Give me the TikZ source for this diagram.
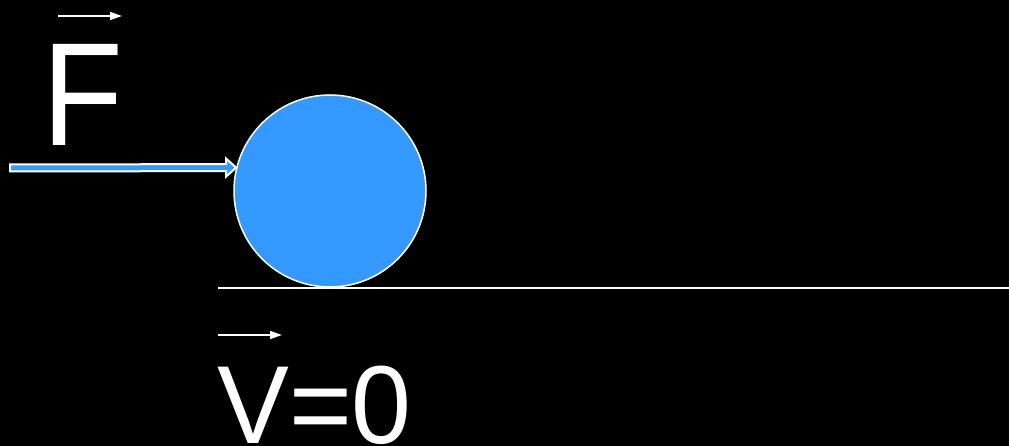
\documentclass[tikz,border=0pt]{standalone}
\usepackage{fontspec}
\setmainfont{Liberation Sans}
\usepackage{tikz}
\usetikzlibrary{calc, arrows.meta}
\definecolor{ballColor}{RGB}{51,153,255}

\begin{document}
\begin{tikzpicture}[x=1pt, y=1pt,
    label/.style={text=white, inner sep=0pt, anchor=base west},
    vecarrow/.style={white, line width=1.5pt, -{Triangle[length=12pt, width=8pt]}},
    forcearrow/.style={fill=ballColor, draw=white, line width=2pt, line join=miter}]
    \fill[black] (0,0) rectangle (1009,446);
    \useasboundingbox (0,0) rectangle (1009,446);
    \node[circle, fill=ballColor, draw=white, line width=1.5pt, minimum size=192pt, inner sep=0pt] (ball) at (330,255) {};
    \draw[white, line width=2pt] (218,158) coordinate (gstart) -- (1009,158) coordinate (gend);
    \coordinate (fstart) at (10,278);
    \coordinate (ftip) at (ball.166);
    \draw[forcearrow] ($(fstart)+(0,3.5)$) -- ($(ftip)+(-10,3.5)$) -- ($(ftip)+(-10,9)$) -- (ftip)
        -- ($(ftip)+(-10,-9)$) -- ($(ftip)+(-10,-3.5)$) -- ($(fstart)+(0,-3.5)$) -- cycle;
    \node[label, font=\fontsize{147}{150}\selectfont] (flabel) at (42,300) {\scalebox{0.9}[1]{F}};
    \draw[vecarrow] ($(flabel.base west)+(16,130)$) -- ($(flabel.base west)+(80,130)$);
    \node[label, font=\fontsize{111}{114}\selectfont] (vlabel) at (217,2) {\scalebox{0.97}[1]{V=0}};
    \draw[vecarrow] ($(vlabel.base west)+(1,109)$) -- ($(vlabel.base west)+(65,109)$);
\end{tikzpicture}
\end{document}
